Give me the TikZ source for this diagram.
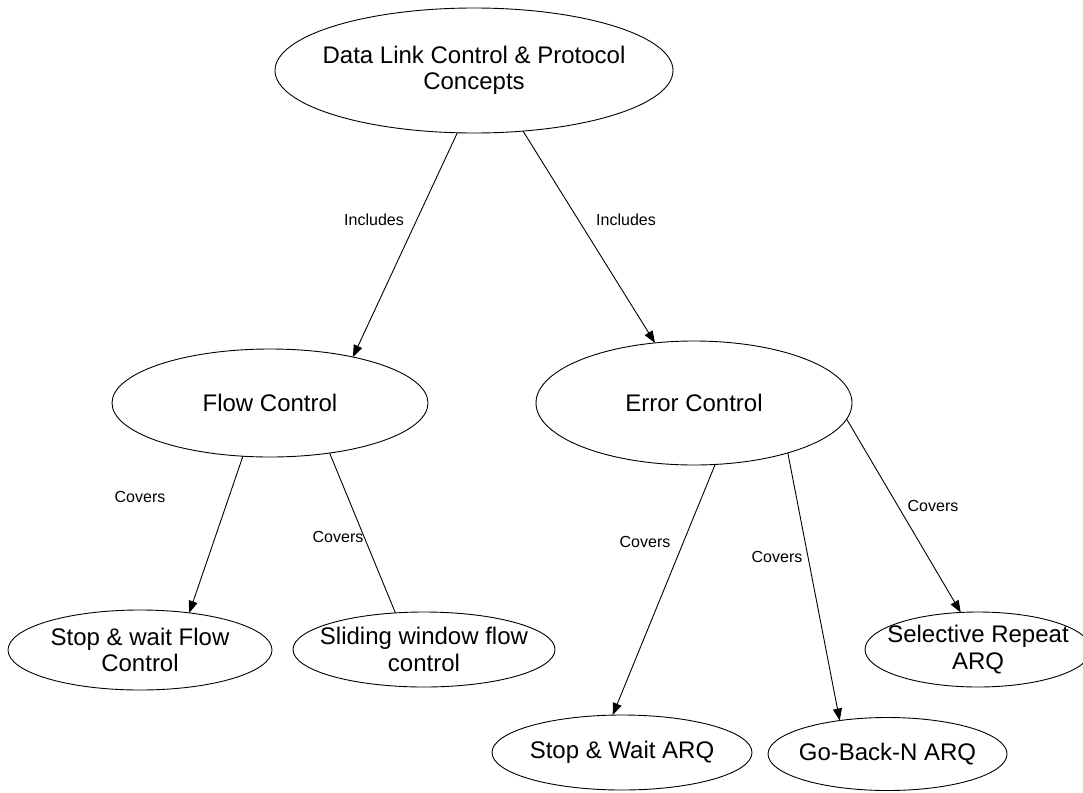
\documentclass[tikz,border=0pt]{standalone}
\usepackage{fontspec}
\setmainfont{Liberation Sans}
\usetikzlibrary{shapes.geometric,arrows.meta}

\tikzset{
  % the ellipse keeps its given size; the caption sits in its centre
  concept/.style={ellipse, draw=black, line width=0.9pt, inner sep=0pt, outer sep=0pt,
    label={[concepttext]center:#1}},
  concepttext/.style={align=center, font=\fontsize{24}{26.5}\selectfont, inner sep=0pt},
  link/.style={draw=black, line width=0.9pt},
  arrowlink/.style={link, -{Triangle[length=12pt,width=9pt]}},
  edgelabel/.style={font=\fontsize{16}{18}\selectfont, inner sep=0pt}
}

\begin{document}
\begin{tikzpicture}[x=1pt, y=-1pt]
  \useasboundingbox[fill=white] (0,0) rectangle (1083,792);

  % concept hierarchy
  \node[concept={Data Link Control \& Protocol\\Concepts},
        minimum width=398pt, minimum height=125pt] (dlc) at (474,70.5) {};
  \node[concept={Flow Control}, minimum width=316pt, minimum height=108pt] (flow) at (270,403) {};
  \node[concept={Error Control}, minimum width=316pt, minimum height=124pt] (error) at (694,403) {};
  \node[concept={Stop \& wait Flow\\Control},
        minimum width=264pt, minimum height=80pt] (swflow) at (140,650) {};
  \node[concept={Sliding window flow\\control},
        minimum width=262pt, minimum height=75pt] (sliding) at (424,649.5) {};
  \node[concept={Selective Repeat\\ARQ},
        minimum width=226pt, minimum height=75pt] (srarq) at (978,649.5) {};
  \node[concept={Stop \& Wait ARQ}, minimum width=260pt, minimum height=75pt] (swarq) at (622,752.5) {};
  \node[concept={Go-Back-N ARQ}, minimum width=239pt, minimum height=73pt] (gbn) at (887.5,754) {};

  % connectors
  \draw[arrowlink] (dlc.255.2) -- (flow.29);
  \draw[arrowlink] (dlc.309.2) -- (error.123);
  \draw[arrowlink] (flow.243.4) -- (swflow.37.8);
  \draw[link] (flow.320) -- (sliding.128.4);
  \draw[arrowlink] (error.289) -- (swarq.104.3);
  \draw[arrowlink] (error.332) -- (gbn.145.5);
  \draw[arrowlink] (error.354.8) -- (srarq.115.9);

  % connector labels
  \node[edgelabel] (inc1) at (374,220) {Includes};
  \node[edgelabel] (inc2) at (626,220) {Includes};
  \node[edgelabel] (cov1) at (140,497) {Covers};
  \node[edgelabel] (cov2) at (338,537) {Covers};
  \node[edgelabel] (cov3) at (645,542) {Covers};
  \node[edgelabel] (cov4) at (777,557) {Covers};
  \node[edgelabel] (cov5) at (933,506) {Covers};
\end{tikzpicture}
\end{document}
